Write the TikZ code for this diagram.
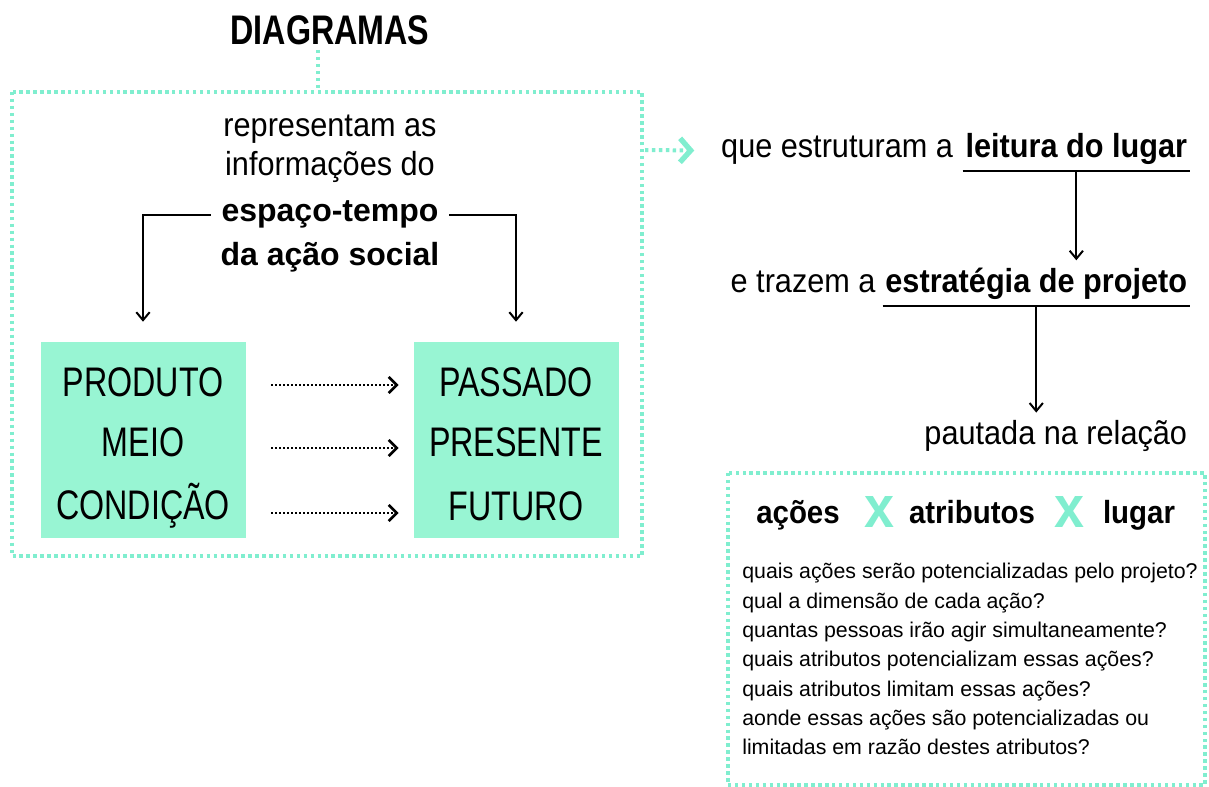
\documentclass[tikz,border=0pt]{standalone}
\usepackage{fontspec}
\setmainfont{Liberation Sans}[FakeStretch=0.92]
\newfontfamily\narrowfont{Liberation Sans}[FakeStretch=0.78]
\newfontfamily\widefont{Liberation Sans}
\usetikzlibrary{arrows.meta,positioning,calc}
\definecolor{mint}{HTML}{98F5D3}
\definecolor{dotmint}{HTML}{80EECF}

\tikzset{
  dotframe/.style={draw=dotmint,line width=3pt,dash pattern=on 2.6pt off 2.6pt},
  mintbox/.style={fill=mint,minimum width=153.75pt,minimum height=147pt,inner sep=0pt},
  boxword/.style={font=\narrowfont\fontsize{31}{33}\selectfont,inner sep=0pt},
  plain/.style={font=\fontsize{25}{27}\selectfont,inner sep=2pt},
  strong/.style={font=\fontsize{25}{27}\selectfont\bfseries,inner sep=2pt},
  link/.style={line width=1.5pt,-{Straight Barb[length=6pt,width=10pt,line width=1.5pt]}},
  hop/.style={line width=2pt,dash pattern=on 1.6pt off 1.4pt,
    -{Straight Barb[length=6pt,width=12pt,line width=2pt,sep=0pt]}},
}

\begin{document}
\begin{tikzpicture}[x=0.75pt,y=-0.75pt]
  \useasboundingbox (0,0) rectangle (1209,787);

  % title and left frame
  \node[font=\narrowfont\fontsize{31}{32}\selectfont\bfseries,inner sep=0pt] (title) at (330,30) {DIAGRAMAS};
  \draw[dotframe] (12,92) rectangle (642,556);
  \coordinate (ftop) at (318,90);
  \draw[dotframe] (318,50) -- (ftop);

  \node[plain,anchor=base] (l1) at (330,137) {representam as};
  \node[plain,anchor=base] (l2) at (330,176) {informações do};
  \node[strong,font=\widefont\fontsize{24}{26}\selectfont\bfseries,anchor=base,inner sep=8pt] (esp) at (330,222) {espaço-tempo};
  \node[strong,font=\widefont\fontsize{24}{26}\selectfont\bfseries,anchor=base] (l4) at (330,266) {da ação social};

  % green boxes
  \node[mintbox] (lbox) at (143,440) {};
  \node[mintbox] (rbox) at (516,440) {};
  \node[boxword] (w1) at (143,382) {PRODUTO};
  \node[boxword] (w2) at (143,442) {MEIO};
  \node[boxword] (w3) at (143,506) {CONDIÇÃO};
  \node[boxword] (t1) at (516,382) {PASSADO};
  \node[boxword] (t2) at (516,442) {PRESENTE};
  \node[boxword] (t3) at (516,506) {FUTURO};

  \draw[link,shorten >=15pt] (esp.west) -| (lbox.north);
  \draw[link,shorten >=15pt] (esp.east) -| (rbox.north);
  \foreach \a/\b/\y in {w1/t1/385, w2/t2/448, w3/t3/513} {
    \draw[hop,shorten <=19pt,shorten >=11pt] (lbox.east |- 0,\y) -- (rbox.west |- 0,\y);
  }

  % right column
  \node[strong,anchor=base east] (lugar) at (1190,158) {leitura do lugar};
  \node[plain,anchor=base east] (q1) at ([xshift=-5pt]lugar.base west) {que estruturam a};
  \node[strong,anchor=base east] (estr) at (1190,293) {estratégia de projeto};
  \node[plain,anchor=base east] (q2) at ([xshift=-3pt]estr.base west) {e trazem a};
  \node[plain,anchor=base east] (rel) at (1190,445) {pautada na relação};

  \draw[line width=1.5pt] (lugar.south west) ++(0,-2pt) coordinate (u1) -- (u1 -| lugar.south east);
  \draw[line width=1.5pt] (estr.south west) ++(0,-2pt) coordinate (u2) -- (u2 -| estr.south east);
  \draw[link,shorten <=2pt,shorten >=4pt] (lugar.south) -- (lugar.south |- estr.north);
  \draw[link,shorten <=2pt,shorten >=4pt] (estr.south) -- (estr.south |- rel.north);

  % teal hop out of the frame
  \draw[draw=dotmint,line width=3pt,dash pattern=on 2.6pt off 2.6pt,shorten >=18pt,
    -{Straight Barb[length=8pt,width=18pt,line width=4pt]}] (645,150) -- (q1.west);

  % relation box
  \draw[dotframe] (728,473) rectangle (1205,785);
  \node[strong,font=\fontsize{24}{26}\selectfont\bfseries,anchor=base] (acoes) at (798,523) {ações};
  \node[text=dotmint,font=\fontsize{44}{44}\selectfont\bfseries,anchor=base] (x1) at (879,527) {x};
  \node[strong,font=\fontsize{24}{26}\selectfont\bfseries,anchor=base] (atrib) at (972,523) {atributos};
  \node[text=dotmint,font=\fontsize{44}{44}\selectfont\bfseries,anchor=base] (x2) at (1069,527) {x};
  \node[strong,font=\fontsize{24}{26}\selectfont\bfseries,anchor=base] (lug) at (1139,523) {lugar};

  \node[anchor=north west,align=left,inner sep=0pt,
    font=\widefont\fontsize{16}{22}\selectfont] (ask) at (742,563) {%
    quais ações serão potencializadas pelo projeto?\\
    qual a dimensão de cada ação?\\
    quantas pessoas irão agir simultaneamente?\\
    quais atributos potencializam essas ações?\\
    quais atributos limitam essas ações?\\
    aonde essas ações são potencializadas ou\\
    limitadas em razão destes atributos?};
\end{tikzpicture}
\end{document}
